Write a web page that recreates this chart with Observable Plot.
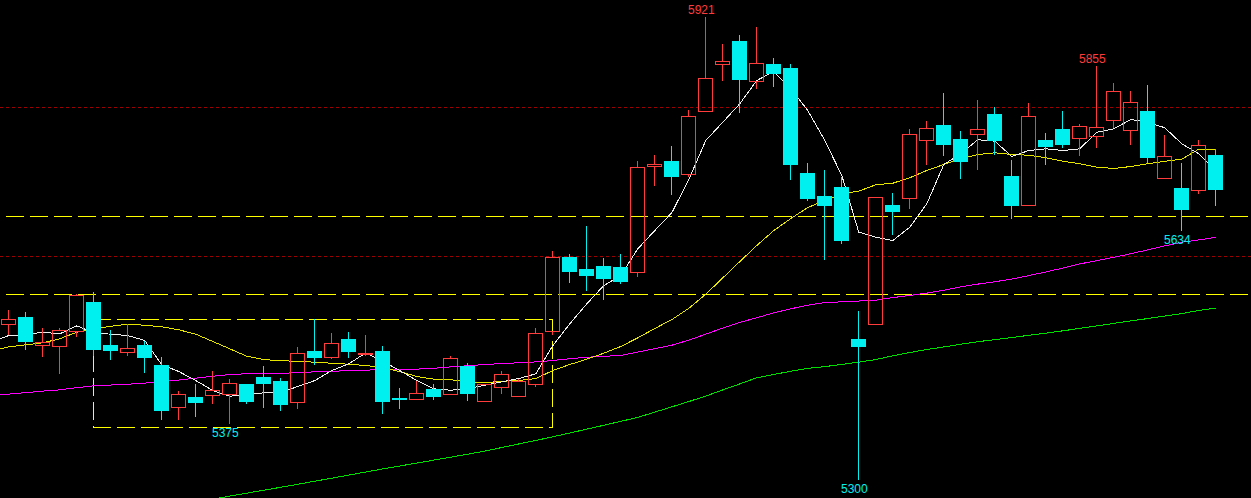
<!DOCTYPE html>
<html>
<head>
<meta charset="utf-8">
<script src="https://cdn.jsdelivr.net/npm/d3@7"></script>
<script src="https://cdn.jsdelivr.net/npm/@observablehq/plot@0.6"></script>
<style>
  html, body { margin: 0; padding: 0; background: #000; }
  #chart svg { display: block; }
</style>
</head>
<body>
<div id="chart"></div>
<script>
// Daily candles, oldest first (index 0 .. 71)
const open = [
  5509, 5518, 5481, 5479, 5500, 5538, 5480, 5471, 5481, 5454,
  5398, 5411, 5414, 5415, 5428, 5437, 5432, 5404, 5472, 5464,
  5488, 5468, 5472, 5410, 5408, 5422, 5415, 5452, 5406, 5424,
  5412, 5428, 5500, 5599, 5583, 5586, 5585, 5579, 5721, 5728,
  5710, 5795, 5858, 5889, 5835, 5858, 5852, 5712, 5681, 5692,
  5488, 5509, 5668, 5678, 5755, 5776, 5757, 5764, 5790, 5708,
  5669, 5755, 5770, 5759, 5761, 5783, 5769, 5795, 5704, 5691,
  5689, 5736
];
const high = [
  5528, 5525, 5504, 5504, 5549, 5552, 5502, 5510, 5487, 5465,
  5419, 5429, 5447, 5436, 5429, 5453, 5437, 5479, 5516, 5497,
  5499, 5495, 5480, 5424, 5433, 5429, 5466, 5457, 5428, 5446,
  5436, 5504, 5607, 5603, 5641, 5598, 5604, 5728, 5736, 5748,
  5796, 5921, 5885, 5897, 5908, 5866, 5858, 5726, 5716, 5707,
  5527, 5679, 5685, 5771, 5782, 5819, 5768, 5810, 5801, 5729,
  5806, 5766, 5795, 5778, 5855, 5833, 5822, 5830, 5763, 5725,
  5756, 5744
];
const low = [
  5495, 5474, 5465, 5442, 5492, 5466, 5461, 5467, 5444, 5381,
  5381, 5384, 5402, 5375, 5402, 5397, 5392, 5396, 5455, 5463,
  5464, 5467, 5389, 5395, 5407, 5407, 5415, 5406, 5406, 5416,
  5412, 5425, 5495, 5564, 5554, 5542, 5563, 5572, 5695, 5682,
  5707, 5795, 5836, 5792, 5825, 5827, 5703, 5674, 5595, 5617,
  5300, 5509, 5629, 5664, 5723, 5735, 5704, 5716, 5736, 5650,
  5669, 5723, 5745, 5735, 5746, 5773, 5749, 5725, 5704, 5634,
  5684, 5668
];
const close = [
  5516, 5486, 5485, 5501, 5547, 5475, 5474, 5477, 5464, 5393,
  5415, 5404, 5420, 5430, 5405, 5429, 5401, 5470, 5464, 5483,
  5472, 5470, 5406, 5408, 5416, 5412, 5463, 5416, 5428, 5441,
  5432, 5497, 5599, 5580, 5574, 5570, 5567, 5720, 5724, 5707,
  5788, 5839, 5862, 5837, 5859, 5845, 5723, 5678, 5668, 5621,
  5479, 5679, 5660, 5764, 5772, 5750, 5727, 5771, 5755, 5668,
  5788, 5747, 5750, 5775, 5773, 5822, 5806, 5733, 5734, 5663,
  5749, 5690
];

// Moving averages; the first value belongs to the bar just before index 0
const maStart = -1;
const ma5 = [
  5485.8,
  5494.6, 5495.6, 5499.1, 5496.9, 5507.6, 5498.2, 5496.4, 5494.6, 5487.9, 5455.3,
  5446.3, 5434.2, 5420.8, 5413.2, 5415.0, 5417.7, 5418.1, 5426.2, 5434.2, 5447.6,
  5456.6, 5471.4, 5460.1, 5447.6, 5434.2, 5423.1, 5421.2, 5423.1, 5427.9, 5432.5,
  5436.9, 5443.2, 5481.0, 5510.3, 5537.2, 5561.7, 5575.1, 5611.0, 5635.5, 5659.3,
  5704.0, 5756.3, 5780.9, 5805.6, 5836.9, 5848.9, 5825.7, 5796.6, 5756.3, 5709.4,
  5633.3, 5626.5, 5622.1, 5640.0, 5671.4, 5724.1, 5738.5, 5757.3, 5755.4, 5734.9,
  5742.9, 5745.2, 5742.9, 5745.2, 5767.5, 5772.0, 5784.5, 5780.9, 5773.4, 5751.9,
  5738.5, 5715.1
];
const ma20 = [
  5474.1,
  5479.5, 5482.1, 5484.8, 5490.2, 5499.1, 5503.6, 5507.1, 5509.8, 5508.4, 5506.3,
  5502.3, 5496.4, 5486.6, 5476.8, 5466.8, 5462.4, 5460.7, 5460.1, 5458.8, 5457.4,
  5456.1, 5454.4, 5451.3, 5446.3, 5439.6, 5436.0, 5435.2, 5432.5, 5431.1, 5433.3,
  5434.2, 5436.9, 5447.6, 5455.7, 5462.8, 5470.9, 5479.9, 5491.5, 5504.0, 5516.0,
  5531.0, 5550.0, 5572.0, 5593.9, 5615.4, 5635.5, 5651.6, 5666.4, 5675.8, 5684.8,
  5688.3, 5696.9, 5699.0, 5706.3, 5716.1, 5724.1, 5731.8, 5737.5, 5739.8, 5737.5,
  5736.6, 5733.1, 5728.5, 5725.1, 5720.5, 5718.8, 5721.4, 5725.1, 5728.5, 5731.2,
  5744.7, 5744.7
];
const ma60 = [
  5414.8,
  5416.0, 5418.0, 5420.0, 5421.7, 5424.6, 5427.2, 5428.2, 5429.3, 5430.7, 5432.6,
  5434.9, 5437.4, 5440.0, 5442.3, 5443.3, 5443.6, 5443.9, 5444.7, 5445.9, 5446.7,
  5447.4, 5448.2, 5448.7, 5448.9, 5449.5, 5450.7, 5452.5, 5454.1, 5455.7, 5457.0,
  5458.0, 5459.2, 5461.1, 5463.5, 5465.5, 5466.7, 5467.9, 5472.5, 5477.0, 5481.6,
  5488.4, 5496.5, 5504.7, 5512.2, 5518.5, 5525.0, 5530.5, 5535.3, 5538.9, 5539.8,
  5540.9, 5542.1, 5545.5, 5548.4, 5551.5, 5555.4, 5560.0, 5563.6, 5566.8, 5570.3,
  5575.1, 5579.8, 5585.2, 5590.7, 5595.1, 5599.6, 5604.4, 5609.6, 5614.9, 5619.8,
  5622.9, 5626.5
];
// The long average comes into view from below at bar 11
const ma120Start = 11;
const ma120 = [
  5271.2, 5275.2, 5279.1, 5283.1, 5287.0, 5291.0, 5295.0, 5299.1, 5303.2,
  5307.3, 5311.4, 5315.6, 5319.5, 5323.5, 5327.4, 5331.4, 5335.3, 5339.6, 5344.3,
  5349.1, 5353.8, 5358.7, 5363.8, 5369.0, 5374.2, 5379.5, 5384.7, 5391.8, 5398.9,
  5406.0, 5413.4, 5421.6, 5429.7, 5437.9, 5442.4, 5446.6, 5450.6, 5452.9, 5455.8,
  5458.9, 5462.4, 5467.4, 5471.8, 5475.8, 5479.3, 5482.9, 5486.3, 5489.1, 5491.9,
  5494.9, 5497.7, 5500.9, 5504.2, 5507.5, 5510.9, 5514.2, 5517.4, 5520.8, 5524.1,
  5528.2, 5531.5
];

// Horizontal guide levels
const dottedLevels = [5800, 5600];
const dashedLevels = [5654, 5549];
// Consolidation range box: first bar, last bar, bottom, top
const rangeBox = [{from: 5, to: 32, bottom: 5371, top: 5515}];
// Bars whose extreme is printed
const highMarks = [41, 64];
const lowMarks = [13, 50, 69];

const UP = "#ff3c3c";
const DOWN = "#00f0f0";

const bars = open.map((o, i) => ({
  i, open: o, high: high[i], low: low[i], close: close[i],
  top: Math.max(o, close[i]), bottom: Math.min(o, close[i])
}));
const upBars = bars.filter(d => d.close >= d.open);
const downBars = bars.filter(d => d.close < d.open);
const series = (arr, start) => arr.map((v, k) => ({i: start + k, v}));

const half = 0.41;
const crisp = {shapeRendering: "crispEdges"};
const maLine = (data, color) =>
  Plot.line(data, {x: "i", y: "v", stroke: color, strokeWidth: 1, clip: true, ...crisp});

const chart = Plot.plot({
  width: 1251,
  height: 498,
  margin: 0,
  x: {type: "linear", domain: [-0.488, 73.1], axis: null},
  y: {type: "linear", domain: [5275.9, 5944.2], axis: null},
  style: {background: "#000", overflow: "hidden"},
  marks: [
    Plot.ruleY(dottedLevels, {stroke: "#a00000", strokeDasharray: "3,3", ...crisp}),
    Plot.ruleY(dashedLevels, {stroke: "#ffff00", strokeDasharray: "18,6", strokeDashoffset: 18, ...crisp}),
    Plot.rect(rangeBox, {x1: "from", x2: "to", y1: "bottom", y2: "top", fill: "none", stroke: "#ffff00", strokeDasharray: "18,6", ...crisp}),

    maLine(series(ma120, ma120Start), "#00e000"),
    maLine(series(ma60, maStart), "#ff00ff"),
    maLine(series(ma20, maStart), "#e6e600"),
    maLine(series(ma5, maStart), "#f0f0f0"),

    // wicks above and below each body
    Plot.ruleX(upBars, {x: "i", y1: "high", y2: "top", stroke: UP, ...crisp}),
    Plot.ruleX(upBars, {x: "i", y1: "bottom", y2: "low", stroke: UP, ...crisp}),
    Plot.ruleX(downBars, {x: "i", y1: "high", y2: "top", stroke: DOWN, ...crisp}),
    Plot.ruleX(downBars, {x: "i", y1: "bottom", y2: "low", stroke: DOWN, ...crisp}),

    // hollow rising bodies, solid falling bodies
    Plot.rect(upBars, {x1: d => d.i - half, x2: d => d.i + half, y1: "bottom", y2: "top", fill: "none", stroke: UP, ...crisp}),
    Plot.rect(downBars, {x1: d => d.i - half, x2: d => d.i + half, y1: "bottom", y2: "top", fill: DOWN, stroke: DOWN, ...crisp}),

    Plot.text(highMarks, {x: d => d, y: d => high[d], text: d => String(high[d]), fill: UP, lineAnchor: "bottom", dy: -4, dx: -4.5, fontSize: 12, fontFamily: "Liberation Sans, Arial, sans-serif"}),
    Plot.text(lowMarks, {x: d => d, y: d => low[d], text: d => String(low[d]), fill: DOWN, lineAnchor: "top", dy: 4, dx: -4.5, fontSize: 12, fontFamily: "Liberation Sans, Arial, sans-serif"})
  ]
});

document.getElementById("chart").appendChild(chart);
</script>
</body>
</html>
